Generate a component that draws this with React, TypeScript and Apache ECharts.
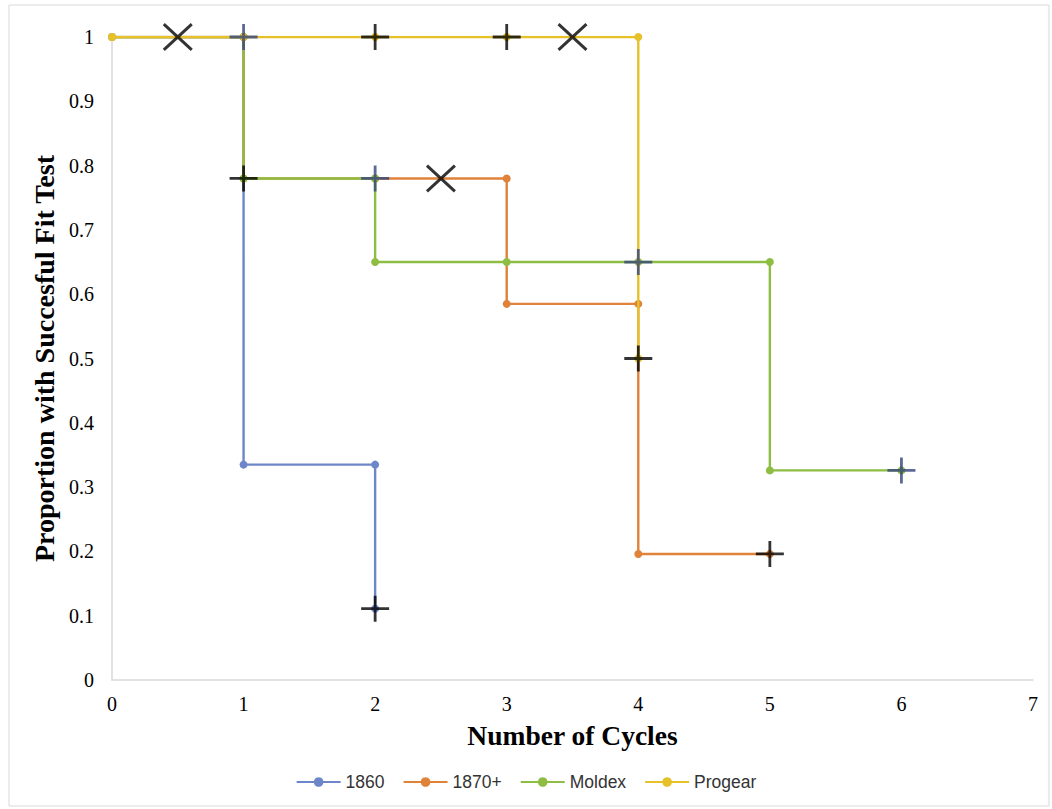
import React, { useEffect, useRef } from "react";
import * as echarts from "echarts";

const xTicks = [0, 1, 2, 3, 4, 5, 6, 7];
const s1860: [number, number][] = [[0, 1], [1, 1], [1, 0.335], [2, 0.335], [2, 0.111]];
const s1870: [number, number][] = [[0, 1], [1, 1], [1, 0.78], [2, 0.78], [3, 0.78], [3, 0.585], [4, 0.585], [4, 0.196], [5, 0.196]];
const sMoldex: [number, number][] = [[0, 1], [1, 1], [1, 0.78], [2, 0.78], [2, 0.65], [3, 0.65], [4, 0.65], [5, 0.65], [5, 0.326], [6, 0.326]];
const sProgear: [number, number][] = [[0, 1], [1, 1], [2, 1], [3, 1], [4, 1], [4, 0.5]];
const censNavy: [number, number][] = [[1, 1], [2, 0.78], [4, 0.65], [6, 0.326]];
const censBlack: [number, number][] = [[1, 0.78], [2, 1], [3, 1], [4, 0.5], [2, 0.111], [5, 0.196]];
const crossMarks: [number, number][] = [[0.5, 1], [2.5, 0.78], [3.5, 1]];

const names = ["1860", "1870+", "Moldex", "Progear"];
const colors = ["#6C86C9", "#DF833A", "#8DBE43", "#E6C12A"];

const PLUS = "path://M-1.4,-13 L1.4,-13 L1.4,13 L-1.4,13 Z M-14,-1.4 L14,-1.4 L14,1.4 L-14,1.4 Z";
const XMARK = "path://M-15.02,-11.9 L12.98,14.1 L15.02,11.9 L-12.98,-14.1 Z M-12.98,14.1 L15.02,-11.9 L12.98,-14.1 L-15.02,11.9 Z";

export default function App() {
  const ref = useRef<HTMLDivElement>(null);
  useEffect(() => {
    document.body.style.margin = "0";
    const chart = echarts.init(ref.current!, undefined, { renderer: "svg" });
    const data = [s1860, s1870, sMoldex, sProgear];
    const lineSeries = data.map((d, i) => ({
      name: names[i],
      type: "line",
      data: d,
      symbol: "circle",
      symbolSize: 8,
      showAllSymbol: true,
      color: colors[i],
      lineStyle: { width: 2.4, color: colors[i] },
      itemStyle: { color: colors[i] },
      z: 2 + i,
    }));
    chart.setOption({
      animation: false,
      backgroundColor: "#ffffff",
      grid: { left: 112, right: 19, top: 37, bottom: 129 },
      graphic: [
        {
          type: "rect",
          shape: { x: 9, y: 5, width: 1040, height: 801 },
          style: { fill: "none", stroke: "#D9D9D9", lineWidth: 1 },
          silent: true,
        },
      ],
      xAxis: {
        type: "value",
        min: 0,
        max: 7,
        interval: 1,
        name: "Number of Cycles",
        nameLocation: "middle",
        nameGap: 41,
        nameTextStyle: { fontFamily: "Liberation Serif", fontWeight: "bold", fontSize: 27.5, color: "#000" },
        axisLine: { lineStyle: { color: "#D9D9D9", width: 1.5 } },
        axisTick: { show: false },
        splitLine: { show: false },
        axisLabel: {
          fontFamily: "Liberation Serif",
          fontSize: 20,
          color: "#000",
          margin: 14,
          formatter: (v: number) => (xTicks.includes(v) ? String(v) : ""),
        },
      },
      yAxis: {
        type: "value",
        min: 0,
        max: 1,
        interval: 0.1,
        name: "Proportion with Succesful Fit Test",
        nameLocation: "middle",
        nameGap: 51,
        nameTextStyle: { fontFamily: "Liberation Serif", fontWeight: "bold", fontSize: 28, color: "#000" },
        axisLine: { show: true, lineStyle: { color: "#D9D9D9", width: 1.5 } },
        axisTick: { show: false },
        splitLine: { show: false },
        axisLabel: {
          fontFamily: "Liberation Serif",
          fontSize: 20,
          color: "#000",
          margin: 18,
          formatter: (v: number) => String(Math.round(v * 10) / 10),
        },
      },
      legend: {
        data: names,
        bottom: 13,
        left: "center",
        itemWidth: 44,
        itemHeight: 12,
        itemGap: 18,
        textStyle: { fontFamily: "Liberation Sans", fontSize: 17.5, color: "#333" },
      },
      series: [
        ...lineSeries,
        {
          name: "censNavy",
          type: "scatter",
          data: censNavy,
          symbol: PLUS,
          symbolSize: [28, 26],
          itemStyle: { color: "#34447A" },
          z: 10,
        },
        {
          name: "censBlack",
          type: "scatter",
          data: censBlack,
          symbol: PLUS,
          symbolSize: [28, 26],
          itemStyle: { color: "#000000" },
          z: 11,
        },
        {
          name: "cross",
          type: "scatter",
          data: crossMarks,
          symbol: XMARK,
          symbolSize: [30, 28],
          itemStyle: { color: "#000000" },
          z: 12,
        },
      ],
    });
    return () => chart.dispose();
  }, []);
  return <div ref={ref} style={{ width: 1052, height: 809 }} />;
}
